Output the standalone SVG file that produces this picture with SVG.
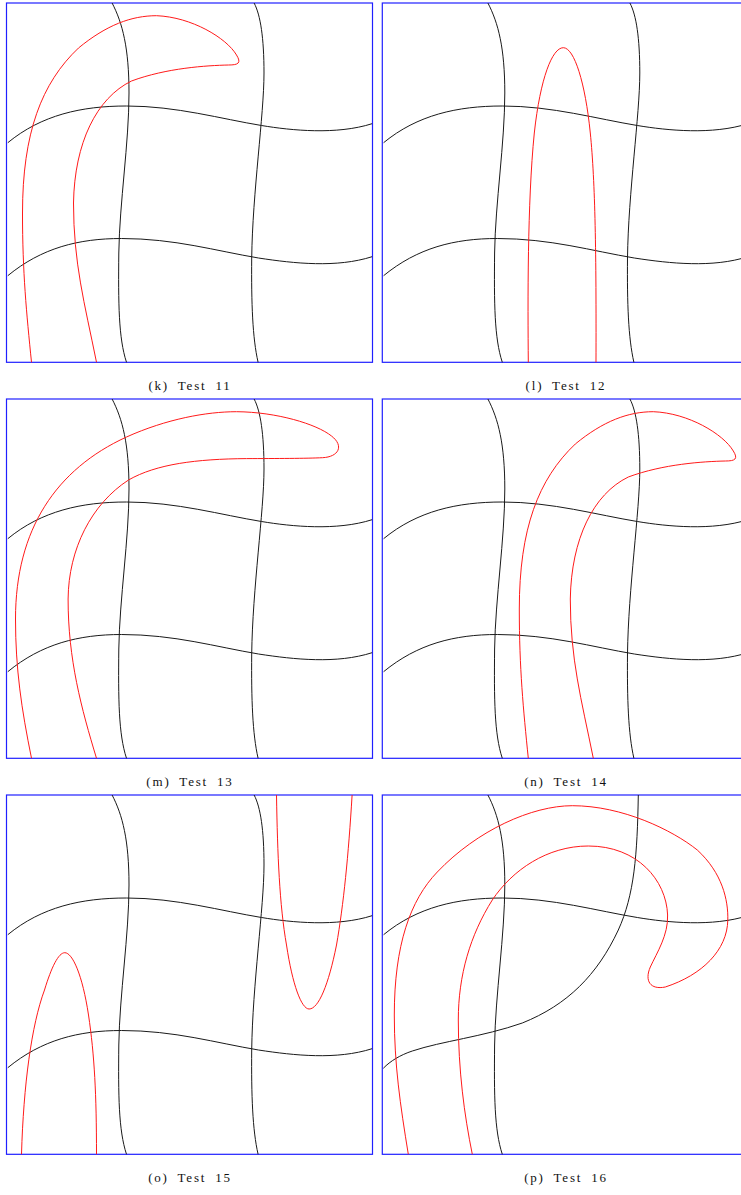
<svg xmlns="http://www.w3.org/2000/svg" xmlns:xlink="http://www.w3.org/1999/xlink" width="741" height="1195" viewBox="0 0 741 1195">
<style>
.frame{fill:none;stroke:#2020ff;stroke-width:1.2}
.blk{fill:none;stroke:#1a1a1a;stroke-width:1}
.red{fill:none;stroke:#ff1a1a;stroke-width:1}
.cap{font-family:"Liberation Serif",serif;font-size:13px;letter-spacing:1.8px;word-spacing:4px;fill:#111;text-anchor:middle}
</style>
<defs>
<path id="v1" d="M105.6,0 C116,20 122.5,45 122.5,90 C122.5,140 113,200 112.3,250 C111.8,300 112,335 120,359.3"/>
<path id="v2" d="M247.6,0 C254,12 257.5,35 257.5,70 C257.5,112 246,190 245.2,255 C244.8,300 246,335 251.6,359.3"/>
<path id="h1" d="M1.3,139.7 C35,112 75,103 120,103 C170,103 215,116 255,122.5 C285,127.5 330,132 365.6,120.7"/>
<path id="h2" d="M1.3,272.7 C35,245 72,235.5 115,235.5 C168,235.5 210,248 252,255 C288,260.5 330,265 365.6,253.7"/>
<g id="grid" class="blk">
<use xlink:href="#v1"/><use xlink:href="#v2"/><use xlink:href="#h1"/><use xlink:href="#h2"/>
</g>
<path id="hook" d="M25,359.3 C20,310 16,270 16,210 C16,130 35,80 72,45 C100,22 125,12.7 150,12.7 C185,14 220,35 230,52 C235,60 232,62 222,62 C200,62.5 160,65 125,78 C90,95 68,140 67,200 C67,260 78,300 90,359.3"/>
</defs>

<g id="panel-k" transform="translate(6.5,3)">
<rect class="frame" x="0" y="0" width="366" height="359.3"/>
<use xlink:href="#grid"/>
<use xlink:href="#hook" class="red"/>
</g>

<g id="panel-l" transform="translate(382.3,3)">
<rect class="frame" x="0" y="0" width="366" height="359.3"/>
<use xlink:href="#grid"/>
<path class="red" d="M146,359.3 C145.5,300 145,200 152,130 C158,75 170,44.7 181,44.7 C192,44.7 203,80 208,130 C213,180 214,250 213.7,359.3"/>
</g>

<g id="panel-m" transform="translate(6.5,399)">
<rect class="frame" x="0" y="0" width="366" height="359.3"/>
<use xlink:href="#grid"/>
<path class="red" d="M25,359.3 C15,310 9,270 9,220 C9,130 50,70 120,38 C160,20 200,12.7 230,12.7 C270,13 310,25 325,37 C338,47 332,58 316,58.7 C300,59.5 270,59.5 240,59.6 C190,60 150,65 122,81 C85,105 62,150 61.6,200 C61.5,260 75,310 90,359.3"/>
</g>

<g id="panel-n" transform="translate(382.3,399)">
<rect class="frame" x="0" y="0" width="366" height="359.3"/>
<use xlink:href="#grid"/>
<use xlink:href="#hook" class="red" transform="translate(121,0)"/>
</g>

<g id="panel-o" transform="translate(6.5,795)">
<rect class="frame" x="0" y="0" width="366" height="359.3"/>
<use xlink:href="#grid"/>
<path class="red" d="M15,359.3 C17,290 25,230 38,195 C45,172 52,157.7 58.3,157.7 C66,157.7 76,180 82,220 C88,260 90,300 90,359.3"/>
<path class="red" d="M270,0 C271,60 273,110 280,150 C286,190 295,214 302.6,214 C312,214 322,190 330,150 C337,110 342,60 345.6,0"/>
</g>

<g id="panel-p" transform="translate(382.3,795)">
<rect class="frame" x="0" y="0" width="366" height="359.3"/>
<g class="blk">
<use xlink:href="#v1"/><use xlink:href="#h1"/>
<path d="M256,0 C255,60 252,100 236,135 C215,180 185,210 140,228 C100,242 60,246 30,256 C18,260 8,266 1,273.3"/>
</g>
<path class="red" d="M26,359.3 C18,310 12,270 12,220 C12,150 28,105 55,77 C95,35 150,10.7 190,10.7 C240,10.7 290,35 315,55 C340,78 346,105 345.5,125 C345,155 320,180 283,192 C268,195 262,186 268,172 C275,157 286,140 285.3,120 C284,85 255,51 206,51 C165,51 130,75 110,105 C88,140 76,180 76,225 C76,275 82,320 90,359.3"/>
</g>

<g id="captions">
<text class="cap" x="190" y="390">(k) Test 11</text>
<text class="cap" x="566" y="390">(l) Test 12</text>
<text class="cap" x="190" y="786">(m) Test 13</text>
<text class="cap" x="566" y="786">(n) Test 14</text>
<text class="cap" x="190" y="1182">(o) Test 15</text>
<text class="cap" x="566" y="1182">(p) Test 16</text>
</g>
</svg>
